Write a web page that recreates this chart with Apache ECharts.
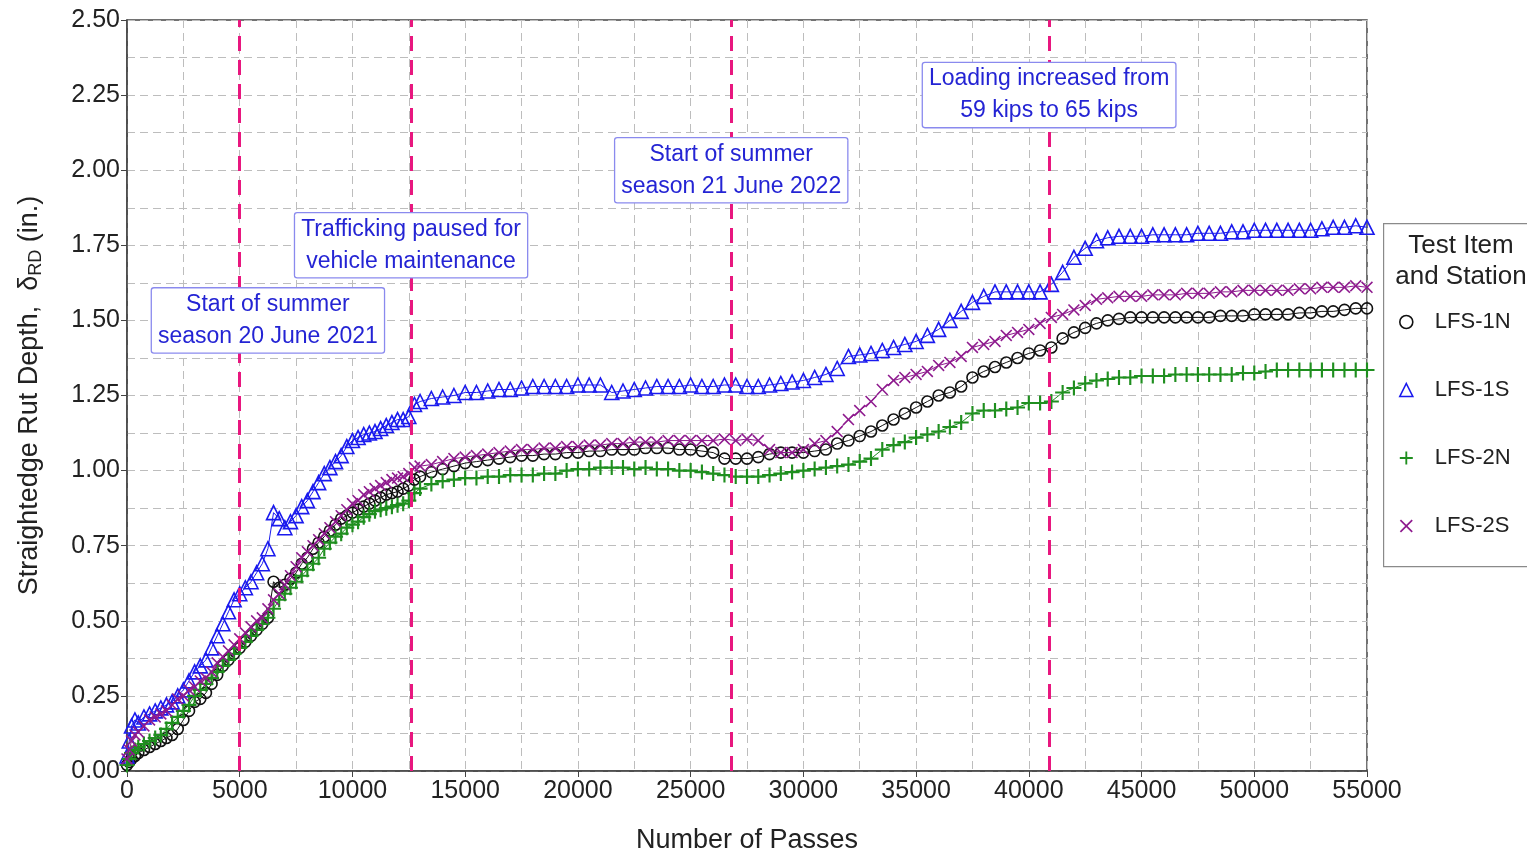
<!DOCTYPE html>
<html><head><meta charset="utf-8">
<script src="https://cdn.jsdelivr.net/npm/echarts@6/dist/echarts.min.js"></script>
<style>html,body{margin:0;padding:0;background:#fff}#c{width:1527px;height:856px}</style>
</head><body><div id="c"></div>
<script>
// ---------------- DATA ----------------
const passes = [
 0,100,200,350,500,750,1000,1250,1500,1750,
 2000,2250,2500,2750,3000,3250,3500,3750,4000,4250,
 4500,4750,5000,5250,5500,5750,6000,6250,6500,6750,
 7000,7250,7500,7750,8000,8250,8500,8750,9000,9250,
 9500,9750,10000,10250,10500,10750,11000,11250,11500,11750,
 12000,12250,12500,12750,13000,
 13500,14000,14500,15000,15500,16000,16500,17000,17500,18000,
 18500,19000,19500,20000,20500,21000,21500,22000,22500,23000,
 23500,24000,24500,25000,25500,26000,26500,27000,27500,28000,
 28500,29000,29500,30000,30500,31000,31500,32000,32500,33000,
 33500,34000,34500,35000,35500,36000,36500,37000,37500,38000,
 38500,39000,39500,40000,40500,41000,41500,42000,42500,43000,
 43500,44000,44500,45000,45500,46000,46500,47000,47500,48000,
 48500,49000,49500,50000,50500,51000,51500,52000,52500,53000,
 53500,54000,54500,55000
];
const lfs1N = [
 0.02,0.03,0.04,0.05,0.06,0.07,0.08,0.09,0.10,0.11,
 0.12,0.14,0.17,0.20,0.23,0.24,0.26,0.29,0.32,0.35,
 0.37,0.39,0.41,0.43,0.45,0.47,0.49,0.51,0.63,0.61,
 0.62,0.64,0.66,0.69,0.71,0.74,0.76,0.78,0.80,0.82,
 0.84,0.85,0.86,0.87,0.88,0.89,0.90,0.91,0.92,0.925,
 0.93,0.94,0.95,0.97,0.98,
 0.995,1.005,1.015,1.025,1.03,1.035,1.04,1.045,1.05,1.05,
 1.055,1.055,1.06,1.06,1.065,1.065,1.07,1.07,1.07,1.075,
 1.075,1.075,1.07,1.07,1.065,1.06,1.04,1.04,1.04,1.045,
 1.055,1.06,1.06,1.06,1.065,1.07,1.09,1.10,1.115,1.13,
 1.15,1.17,1.19,1.21,1.23,1.25,1.26,1.28,1.31,1.33,
 1.345,1.36,1.375,1.39,1.40,1.41,1.44,1.46,1.475,1.49,
 1.50,1.505,1.51,1.51,1.51,1.51,1.51,1.51,1.51,1.51,
 1.515,1.515,1.515,1.52,1.52,1.52,1.52,1.525,1.525,1.53,
 1.53,1.535,1.54,1.54
];
const lfs1S = [
 0.05,0.10,0.15,0.17,0.16,0.18,0.19,0.20,0.21,0.22,
 0.23,0.25,0.27,0.30,0.33,0.35,0.37,0.41,0.45,0.49,
 0.53,0.57,0.59,0.61,0.63,0.66,0.69,0.74,0.86,0.84,
 0.81,0.83,0.85,0.88,0.90,0.93,0.96,0.99,1.01,1.03,
 1.05,1.08,1.10,1.11,1.12,1.125,1.13,1.14,1.15,1.16,
 1.17,1.17,1.18,1.22,1.23,
 1.24,1.245,1.25,1.26,1.26,1.265,1.27,1.27,1.275,1.28,
 1.28,1.28,1.28,1.285,1.285,1.285,1.26,1.265,1.27,1.275,
 1.28,1.28,1.28,1.285,1.28,1.28,1.285,1.285,1.28,1.28,
 1.285,1.29,1.295,1.30,1.31,1.32,1.34,1.38,1.385,1.39,
 1.40,1.41,1.42,1.43,1.45,1.47,1.50,1.53,1.56,1.58,
 1.595,1.595,1.595,1.595,1.595,1.62,1.66,1.71,1.74,1.765,
 1.775,1.78,1.78,1.78,1.785,1.785,1.785,1.785,1.79,1.79,
 1.79,1.795,1.795,1.80,1.80,1.80,1.80,1.80,1.80,1.805,
 1.81,1.81,1.815,1.81
];
const lfs2N = [
 0.02,0.04,0.06,0.07,0.08,0.09,0.10,0.11,0.12,0.14,
 0.16,0.18,0.20,0.22,0.25,0.27,0.29,0.31,0.33,0.35,
 0.37,0.39,0.41,0.43,0.45,0.47,0.49,0.51,0.54,0.57,
 0.59,0.61,0.63,0.65,0.67,0.69,0.71,0.74,0.76,0.78,
 0.79,0.81,0.82,0.83,0.845,0.855,0.865,0.87,0.875,0.88,
 0.885,0.89,0.90,0.925,0.94,
 0.955,0.965,0.97,0.975,0.975,0.98,0.98,0.985,0.985,0.985,
 0.99,0.99,1.00,1.005,1.005,1.01,1.01,1.01,1.005,1.01,
 1.005,1.005,1.00,1.00,0.995,0.99,0.985,0.98,0.98,0.98,
 0.985,0.99,0.995,1.00,1.005,1.01,1.015,1.02,1.03,1.04,
 1.07,1.085,1.095,1.11,1.12,1.13,1.145,1.16,1.19,1.20,
 1.20,1.205,1.21,1.225,1.225,1.23,1.26,1.275,1.29,1.30,
 1.305,1.31,1.31,1.315,1.315,1.315,1.32,1.32,1.32,1.32,
 1.32,1.32,1.325,1.325,1.33,1.335,1.335,1.335,1.335,1.335,
 1.335,1.335,1.335,1.335
];
const lfs2S = [
 0.04,0.07,0.10,0.12,0.13,0.15,0.17,0.18,0.19,0.20,
 0.22,0.24,0.25,0.27,0.28,0.30,0.31,0.33,0.36,0.38,
 0.40,0.42,0.44,0.46,0.48,0.50,0.51,0.54,0.57,0.59,
 0.62,0.65,0.68,0.71,0.73,0.75,0.77,0.79,0.81,0.83,
 0.85,0.87,0.89,0.90,0.92,0.93,0.94,0.95,0.96,0.97,
 0.975,0.98,0.99,1.01,1.015,
 1.02,1.03,1.04,1.045,1.05,1.055,1.06,1.065,1.07,1.07,
 1.075,1.075,1.08,1.08,1.085,1.085,1.09,1.09,1.095,1.095,
 1.095,1.10,1.10,1.10,1.10,1.10,1.105,1.10,1.105,1.10,
 1.07,1.06,1.06,1.07,1.09,1.10,1.13,1.17,1.20,1.23,
 1.27,1.30,1.31,1.32,1.33,1.35,1.36,1.38,1.41,1.42,
 1.43,1.45,1.46,1.47,1.49,1.51,1.52,1.535,1.55,1.57,
 1.575,1.58,1.58,1.58,1.585,1.585,1.585,1.59,1.59,1.59,
 1.595,1.595,1.60,1.60,1.60,1.60,1.60,1.605,1.605,1.61,
 1.61,1.61,1.615,1.61
];
const seriesNames = ['LFS-1N','LFS-1S','LFS-2N','LFS-2S'];
const eventPasses = [5000, 12600, 26800, 40900];
const annotationTexts = [
 'Start of summer\nseason 20 June 2021',
 'Trafficking paused for\nvehicle maintenance',
 'Start of summer\nseason 21 June 2022',
 'Loading increased from\n59 kips to 65 kips'
];
const legendTitle = 'Test Item\nand Station';

// ---------------- CHART ----------------
const FONT = 'Liberation Sans, Arial, sans-serif';
const annotationAnchors = [[6250,1.50],[12600,1.75],[26800,2.00],[40900,2.25]];
const pair = vals => passes.map((p,i)=>[p, vals[i]]);
const PLUS = 'path://M6,0H8V6H14V8H8V14H6V8H0V6H6Z';
const XMARK = 'path://M0,1.3L1.3,0L7,5.7L12.7,0L14,1.3L8.3,7L14,12.7L12.7,14L7,8.3L1.3,14L0,12.7L5.7,7Z';

const styles = [
 {symbol:'circle', size:11, color:'#111111', itemStyle:{color:'rgba(0,0,0,0)', borderColor:'#111111', borderWidth:1.6}},
 {symbol:'triangle', size:14, color:'#1a1aee', itemStyle:{color:'rgba(0,0,0,0)', borderColor:'#1a1aee', borderWidth:1.6}},
 {symbol:PLUS, size:15, color:'#1f8f1f', itemStyle:{color:'#1f8f1f', borderWidth:0}},
 {symbol:XMARK, size:12, color:'#8e1a8e', itemStyle:{color:'#8e1a8e', borderWidth:0}}
];
const allVals = [lfs1N, lfs1S, lfs2N, lfs2S];

const series = allVals.map((vals, k) => ({
  name: seriesNames[k],
  type: 'line',
  data: pair(vals),
  symbol: styles[k].symbol,
  symbolSize: styles[k].size,
  showAllSymbol: true,
  lineStyle: {color: styles[k].color, width: 1},
  itemStyle: styles[k].itemStyle,
  emphasis: {disabled: true},
  z: 2 + k
}));

series[3].markLine = {
  silent: true, symbol: ['none','none'], z: 10,
  label: {show: false},
  lineStyle: {color: '#e8177f', type: [15, 9], width: 3},
  data: eventPasses.map(v => ({xAxis: v}))
};
series[3].markPoint = {
  silent: true, z: 12, symbol: 'rect', symbolSize: 1,
  itemStyle: {color: 'rgba(0,0,0,0)'},
  label: {
    show: true, position: 'inside', color: '#2424d4', fontSize: 23, fontFamily: FONT,
    lineHeight: 32, backgroundColor: '#ffffff', borderColor: '#8a8aee', borderWidth: 1.3,
    borderRadius: 2, padding: [0, 6], align: 'center'
  },
  data: annotationTexts.map((t, i) => ({coord: annotationAnchors[i], label: {formatter: t}}))
};

const splitStyle = {type: [8, 5], color: '#bdbdbd', width: 1};

const option = {
  animation: false,
  backgroundColor: '#ffffff',
  textStyle: {fontFamily: FONT},
  grid: {left: 127, right: 160, top: 20, bottom: 85, outerBoundsMode: 'none', containLabel: false,
         show: true, borderColor: '#444', borderWidth: 1.5, backgroundColor: 'transparent'},
  xAxis: {
    type: 'value', min: 0, max: 55000, interval: 5000,
    name: 'Number of Passes', nameLocation: 'middle', nameGap: 56,
    nameTextStyle: {fontSize: 27, color: '#222', fontFamily: FONT},
    axisLine: {show: true, lineStyle: {color: '#444', width: 1.5}},
    axisTick: {show: true, length: 6, lineStyle: {color: '#444'}},
    axisLabel: {fontSize: 25, color: '#222', margin: 8, formatter: v => String(v), fontFamily: FONT},
    splitLine: {show: true, lineStyle: splitStyle},
    minorTick: {show: true, splitNumber: 2, length: 0},
    minorSplitLine: {show: true, lineStyle: splitStyle}
  },
  yAxis: {
    type: 'value', min: 0, max: 2.5, interval: 0.25,
    name: 'Straightedge Rut Depth,  δ{sub|RD} (in.)', nameLocation: 'middle', nameGap: 82, nameRotate: 90,
    nameTextStyle: {fontSize: 27, color: '#222', fontFamily: FONT,
      rich: {sub: {fontSize: 18, color: '#222', fontFamily: FONT, padding: [12, 0, 0, 0]}}},
    axisLine: {show: true, lineStyle: {color: '#444', width: 1.5}},
    axisTick: {show: true, length: 6, lineStyle: {color: '#444'}},
    axisLabel: {fontSize: 25, color: '#222', margin: 7, formatter: v => v.toFixed(2), fontFamily: FONT},
    splitLine: {show: true, lineStyle: splitStyle},
    minorTick: {show: true, splitNumber: 2, length: 0},
    minorSplitLine: {show: true, lineStyle: splitStyle}
  },
  legend: {
    orient: 'vertical', left: 1394, top: 306,
    itemWidth: 13, itemHeight: 13, itemGap: 46,
    textStyle: {fontSize: 22, color: '#222', fontFamily: FONT, lineHeight: 22, padding: [0, 0, 0, 17]},
    selectedMode: false,
    data: seriesNames.map((n, k) => ({
      name: n,
      icon: k === 0 ? 'circle' : (k === 1 ? 'triangle' : (k === 2 ? PLUS : XMARK)),
      itemStyle: styles[k].itemStyle
    }))
  },
  graphic: [
    {type: 'rect', left: 1383, top: 223, z: 0, shape: {width: 170, height: 343},
     style: {fill: '#fff', stroke: '#8a8a8a', lineWidth: 1.2}},
    {type: 'text', x: 1461, y: 230, z: 1,
     style: {text: legendTitle, fontSize: 26, fontFamily: FONT, fill: '#222', align: 'center', verticalAlign: 'top', lineHeight: 31}}
  ],
  series: series
};

const chart = echarts.init(document.getElementById('c'), null, {renderer: 'canvas'});
chart.setOption(option);
</script>
</body></html>
